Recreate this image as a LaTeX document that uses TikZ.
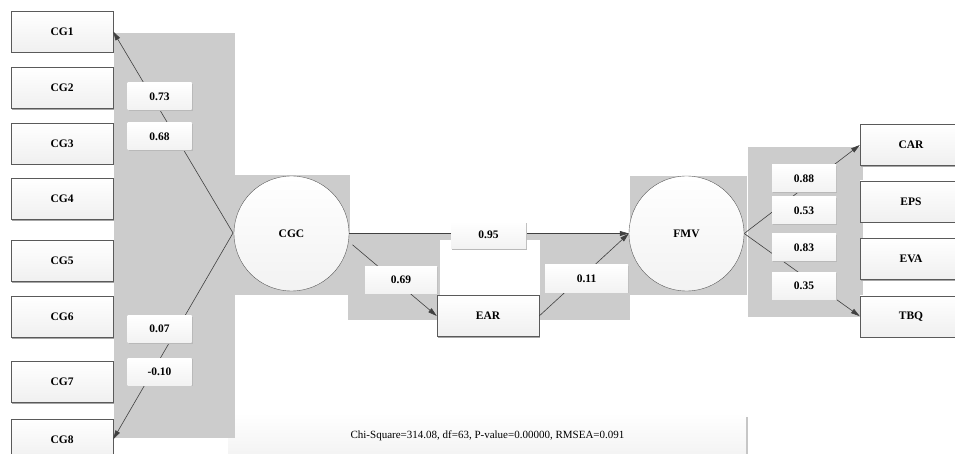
\documentclass[tikz,border=0pt]{standalone}
\usepackage{fontspec}
\setmainfont{Liberation Serif}
\usetikzlibrary{arrows.meta,positioning,shadows}

\definecolor{bggray}{HTML}{CCCCCC}
\definecolor{linegray}{HTML}{404040}
\definecolor{edgegray}{HTML}{5A5A5A}

\begin{document}
\begin{tikzpicture}[
  x=1pt, y=-1pt,
  node distance=15pt,
  every node/.style={font=\fontsize{11.5}{13}\selectfont\bfseries},
  varbox/.style={rectangle, draw=edgegray, top color=white, bottom color=gray!12,
    minimum width=102pt, minimum height=41pt,
    drop shadow={shadow xshift=1pt, shadow yshift=-1.5pt, fill=gray!70, opacity=1}},
  latent/.style={circle, draw=edgegray, top color=white, bottom color=gray!10,
    minimum size=115pt},
  coef/.style={rectangle, top color=white, bottom color=gray!10,
    minimum height=27pt, minimum width=64pt,
    drop shadow={shadow xshift=1.2pt, shadow yshift=-1.2pt, fill=gray!55, opacity=1}},
  note/.style={rectangle, top color=white, bottom color=gray!10,
    minimum width=519pt, minimum height=46pt, font=\fontsize{11}{13}\selectfont},
  arr/.style={-{Triangle[length=9pt,width=5pt]}, draw=linegray, line width=0.6pt},
]
\useasboundingbox (0,0) rectangle (955,454);

% Fit statistics
\node[note] (stats) at (487.5,436) {Chi-Square=314.08, df=63, P-value=0.00000, RMSEA=0.091};
\draw[gray!45, line width=1.5pt] ([yshift=-4pt]stats.north east) -- (stats.south east);

% Gray panels
\fill[bggray] (114,33) rectangle (235,438);
\fill[bggray] (235,175) rectangle (350,295);
\fill[bggray] (348,233) rectangle (630,320);
\fill[white] (440,240) rectangle (540,296);
\fill[bggray] (630,176) rectangle (747,295);
\fill[bggray] (748,147) rectangle (863,317);

% Indicators of CGC
\node[varbox] (cg1) at (62,31.5) {CG1};
\node[varbox, below=15pt of cg1] (cg2) {CG2};
\node[varbox, below=14pt of cg2] (cg3) {CG3};
\node[varbox, below=14pt of cg3] (cg4) {CG4};
\node[varbox, below=21pt of cg4] (cg5) {CG5};
\node[varbox, below=14pt of cg5] (cg6) {CG6};
\node[varbox, below=24pt of cg6] (cg7) {CG7};
\node[varbox, below=16pt of cg7] (cg8) {CG8};

% Latent variables and mediator
\node[latent] (cgc) at (291.5,233.5) {CGC};
\node[latent] (fmv) at (686.5,233.5) {FMV};
\node[varbox] (ear) at (488,316) {EAR};

% Indicators of FMV
\node[varbox] (car) at (911,145) {CAR};
\node[varbox, below=15pt of car] (eps) {EPS};
\node[varbox, below=16pt of eps] (eva) {EVA};
\node[varbox, below=16pt of eva] (tbq) {TBQ};

% Arrows
\coordinate (cgcin) at (233,233);
\draw[arr] (cgcin) -- (cg1.east);
\draw[arr] (cgcin) -- (cg8.east);
\draw[arr] (cgc.east) -- (fmv.west);
\draw[arr, shorten <=5pt] (cgc.-8) -- (ear.west);
\draw[arr] (ear.east) -- (fmv.west);
\draw[arr] (fmv.east) -- (car.west);
\draw[arr] (fmv.east) -- (tbq.west);

% Coefficients
\node[coef] (l1) at (159.5,96.5) {0.73};
\node[coef] (l2) at (159.5,136.5) {0.68};
\node[coef] (l7) at (159.5,329) {0.07};
\node[coef] (l8) at (159.5,371.5) {-0.10};
\node[coef, minimum width=75pt] (lfmv) at (488.5,235) {0.95};
\node[coef, minimum width=72pt] (lear) at (401,279.5) {0.69};
\node[coef, minimum width=83pt] (lmed) at (586.5,278.5) {0.11};
\node[coef] (lcar) at (804,178.5) {0.88};
\node[coef] (leps) at (804,210.5) {0.53};
\node[coef] (leva) at (804,247.5) {0.83};
\node[coef] (ltbq) at (804,285.5) {0.35};

\end{tikzpicture}
\end{document}
